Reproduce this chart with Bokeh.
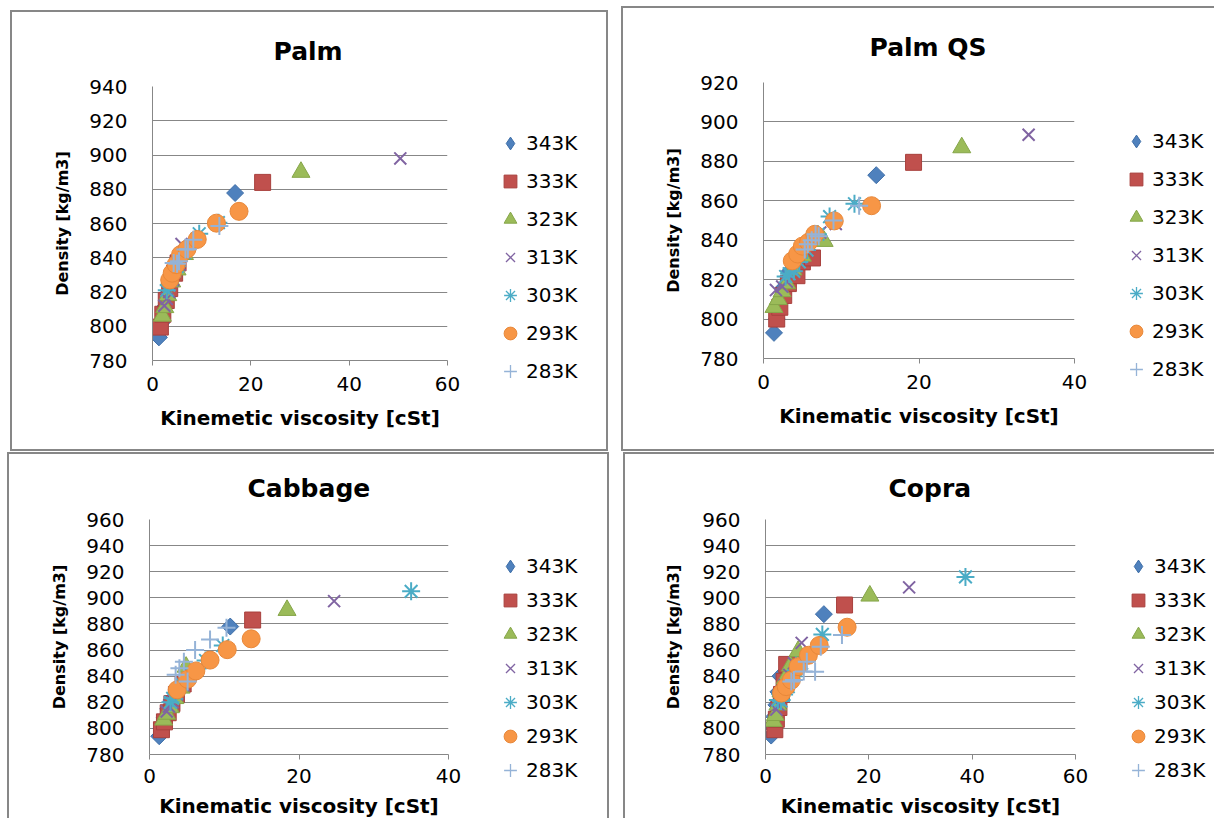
import math
from bokeh.plotting import figure
from bokeh.models import Range1d, FixedTicker, Legend, LegendItem
from bokeh.layouts import row, column
from bokeh.embed import file_html
from bokeh.resources import INLINE

# ---------------- data ----------------
temps = ["343K", "333K", "323K", "313K", "303K", "293K", "283K"]

# Palm
palm_343_v = [1.3, 1.8, 2.4, 3.0, 3.8, 16.8]
palm_343_d = [793.5, 802, 811, 819, 828, 877.8]
palm_333_v = [1.6, 2.1, 2.8, 3.5, 4.5, 5.2, 22.4]
palm_333_d = [799.5, 807, 815, 822, 831, 837, 884]
palm_323_v = [2.0, 2.5, 3.1, 3.9, 5.0, 6.5, 30.2]
palm_323_d = [806, 811, 818, 826, 833, 842, 890]
palm_313_v = [2.4, 2.9, 3.4, 4.2, 5.5, 5.9, 50.4]
palm_313_d = [812, 816, 820, 827, 836, 848, 898]
palm_303_v = [2.9, 3.3, 4.0, 5.0, 6.5, 9.5, 13.4]
palm_303_d = [821, 824, 829, 835, 843, 854, 860.5]
palm_293_v = [3.5, 4.0, 4.8, 5.7, 7.0, 9.1, 13.0, 17.6]
palm_293_d = [827, 831, 836, 841.8, 845, 850.7, 860.2, 867.1]
palm_283_v = [4.3, 5.0, 5.4, 6.7, 7.2, 8.3, 13.6]
palm_283_d = [837, 836.5, 838, 844.8, 845, 850.5, 858.6]

# Palm QS
pqs_343_v = [1.35, 1.7, 2.1, 2.6, 3.3, 4.2, 14.5]
pqs_343_d = [793, 800, 808, 816, 824, 831, 873]
pqs_333_v = [1.7, 2.1, 2.6, 3.2, 4.3, 5.0, 6.3, 19.3]
pqs_333_d = [800, 806, 812, 818, 822, 829, 831, 879.5]
pqs_323_v = [1.35, 1.9, 2.4, 3.0, 3.8, 5.0, 7.8, 25.5]
pqs_323_d = [806, 810, 814, 818, 825, 832, 839.5, 887]
pqs_313_v = [1.6, 2.4, 3.0, 3.8, 4.8, 7.3, 9.3, 34.1]
pqs_313_d = [814.7, 816.5, 819, 825, 831, 843.9, 848.2, 893.5]
pqs_303_v = [2.85, 3.3, 3.9, 4.6, 5.6, 7.0, 8.5, 11.7]
pqs_303_d = [821.6, 823, 824.2, 829, 835, 843, 852, 858.5]
pqs_293_v = [3.7, 4.4, 5.0, 5.8, 6.6, 9.1, 13.9]
pqs_293_d = [829.5, 833, 837, 839, 843, 849.8, 857.5]
pqs_283_v = [5.3, 5.7, 6.2, 6.7, 7.1, 9.0, 12.3]
pqs_283_d = [835.3, 838, 840, 843, 842, 850, 857.5]

# Cabbage
cab_343_v = [1.3, 1.6, 2.0, 2.5, 3.0, 3.8, 10.8]
cab_343_d = [794, 800, 808, 815, 822, 830, 878]
cab_333_v = [1.6, 2.0, 2.5, 3.0, 3.6, 4.5, 13.8]
cab_333_d = [799, 805, 812, 819, 826, 834, 883]
cab_323_v = [1.9, 2.3, 2.8, 3.4, 4.2, 4.9, 18.4]
cab_323_d = [806.5, 811, 816, 823, 831, 847, 890.5]
cab_313_v = [2.3, 2.6, 3.1, 3.7, 4.5, 5.5, 24.7]
cab_313_d = [813, 816.8, 820, 826, 833, 841, 897.5]
cab_303_v = [2.8, 3.1, 3.6, 4.3, 5.5, 7.5, 9.8, 35.0]
cab_303_d = [820, 823, 827, 834, 842, 852, 863.5, 905]
cab_293_v = [3.7, 5.1, 6.2, 8.1, 10.4, 13.6]
cab_293_d = [829.5, 837.7, 844, 852.3, 860.3, 868.6]
cab_283_v = [5.1, 3.5, 4.0, 4.6, 6.1, 8.1, 10.3]
cab_283_d = [836, 841, 846, 851, 860, 868, 877]

# Copra
cop_343_v = [1.1, 1.4, 1.7, 2.1, 2.5, 2.9, 11.3]
cop_343_d = [794.5, 801, 809, 818, 828, 840, 887.5]
cop_333_v = [1.8, 2.1, 2.6, 3.1, 3.6, 4.1, 15.3]
cop_333_d = [799, 807, 816, 826, 836, 849, 894.5]
cop_323_v = [1.5, 1.9, 2.4, 3.0, 3.8, 4.8, 6.3, 20.2]
cop_323_d = [805.5, 810, 818, 828, 838, 848, 859, 901.5]
cop_313_v = [2.1, 2.5, 3.0, 3.7, 4.6, 5.5, 7.0, 27.8]
cop_313_d = [814.4, 818, 825, 833, 841, 850, 865.5, 908]
cop_303_v = [2.4, 3.0, 3.6, 4.4, 5.4, 7.0, 11.0, 38.7]
cop_303_d = [821.8, 821, 826, 832, 840, 850, 872, 916]
cop_293_v = [3.1, 4.0, 5.0, 6.3, 8.3, 10.4, 15.8]
cop_293_d = [827, 832, 837, 847.3, 856, 863.5, 877.5]
cop_283_v = [5.0, 5.5, 7.4, 9.6, 8.0, 10.7, 14.8]
cop_283_d = [836, 837, 843.6, 843.4, 851, 862.5, 871.5]

palm_xticks = [0, 20, 40, 60]
palm_yticks = [780, 800, 820, 840, 860, 880, 900, 920, 940]
pqs_xticks = [0, 20, 40]
pqs_yticks = [780, 800, 820, 840, 860, 880, 900, 920]
cab_xticks = [0, 20, 40]
cab_yticks = [780, 800, 820, 840, 860, 880, 900, 920, 940, 960]
cop_xticks = [0, 20, 40, 60]
cop_yticks = [780, 800, 820, 840, 860, 880, 900, 920, 940, 960]

# ---------------- styling ----------------
COLORS = ["#4F81BD", "#C0504D", "#9BBB59", "#8064A2", "#4BACC6", "#F79646", "#95B3D7"]
EDGE = ["#3F6FA8", "#A8403D", "#86A64A", "#8064A2", "#4BACC6", "#E8883A", "#95B3D7"]
PLOT_MARK = [("square", 12, math.pi / 4), ("square", 16, 0), ("triangle", 18, 0),
             ("x", 17, 0), ("asterisk", 18, 0), ("circle", 18, 0), ("cross", 18, 0)]
LEG_MARK = ["diamond", "square", "triangle", "x", "asterisk", "circle", "cross"]
LINE_ONLY = {"x", "asterisk", "cross"}
GRAY = "#878787"
FONT = "DejaVu Sans"
NAN = float("nan")
B = "2px solid " + GRAY


def no_frame_align(fig):
    if "frame_align" in fig.properties():
        fig.frame_align = False


def make_plot(title, xmax, ymax, vs, ds, xticks, yticks, w, h, borders,
              title_dx, title_standoff, tick_standoff, xlab_standoff, ylab_standoff,
              xlabel, css):
    left, right, top, bottom = borders
    p = figure(width=w, height=h, x_range=Range1d(0, xmax), y_range=Range1d(780, ymax),
               output_backend="svg", toolbar_location=None,
               min_border_left=left, min_border_right=right,
               min_border_top=top, min_border_bottom=bottom)
    no_frame_align(p)
    p.styles = css
    p.outline_line_color = None
    p.background_fill_color = "white"
    p.border_fill_color = "white"

    p.title.text = title
    p.title.align = "left"
    p.title.offset = title_dx
    p.title.standoff = title_standoff
    p.title.text_font = FONT
    p.title.text_font_style = "bold"
    p.title.text_font_size = "25px"
    p.title.text_color = "#000000"

    p.xgrid.visible = False
    p.ygrid.ticker = FixedTicker(ticks=yticks)
    p.ygrid.grid_line_color = GRAY
    p.ygrid.grid_line_width = 1

    for ax in (p.xaxis[0], p.yaxis[0]):
        ax.axis_line_color = GRAY
        ax.axis_line_width = 1
        ax.major_tick_line_color = GRAY
        ax.minor_tick_line_color = None
        ax.major_tick_in = 0
        ax.major_label_text_font = FONT
        ax.major_label_text_font_size = "20px"
        ax.major_label_text_color = "#000000"
        ax.axis_label_text_font = FONT
        ax.axis_label_text_font_style = "bold"
        ax.axis_label_text_color = "#000000"
    p.xaxis.ticker = FixedTicker(ticks=xticks)
    p.yaxis.ticker = FixedTicker(ticks=yticks)
    p.xaxis.major_tick_out = 5
    p.xaxis.major_label_standoff = tick_standoff
    p.yaxis.major_tick_out = 0
    p.yaxis.major_label_standoff = 25
    p.xaxis.axis_label = xlabel
    p.xaxis.axis_label_text_font_size = "20px"
    p.xaxis.axis_label_standoff = xlab_standoff
    p.yaxis.axis_label = "Density [kg/m3]"
    p.yaxis.axis_label_text_font_size = "16px"
    p.yaxis.axis_label_standoff = ylab_standoff

    for i in range(len(temps)):
        mk, sz, ang = PLOT_MARK[i]
        if mk in LINE_ONLY:
            p.scatter(vs[i], ds[i], marker=mk, size=sz, angle=ang,
                      line_color=COLORS[i], line_width=2)
        else:
            p.scatter(vs[i], ds[i], marker=mk, size=sz, angle=ang,
                      fill_color=COLORS[i], line_color=EDGE[i], line_width=1)
    return p


def make_legend(w, h, off_left, off_top, spacing, css):
    q = figure(width=w, height=h, x_range=Range1d(0, 1), y_range=Range1d(0, 1),
               x_axis_type=None, y_axis_type=None, output_backend="svg",
               toolbar_location=None, min_border_left=off_left, min_border_top=off_top,
               min_border_right=0, min_border_bottom=0)
    no_frame_align(q)
    q.title.visible = False
    q.styles = css
    q.outline_line_color = None
    q.background_fill_color = "white"
    q.border_fill_color = "white"
    items = []
    for i, t in enumerate(temps):
        mk = LEG_MARK[i]
        if mk in LINE_ONLY:
            proxy = q.scatter([NAN], [NAN], marker=mk, line_color=COLORS[i], line_width=1.3)
        else:
            proxy = q.scatter([NAN], [NAN], marker=mk, fill_color=COLORS[i],
                              line_color=EDGE[i], line_width=1)
        items.append(LegendItem(label=t, renderers=[proxy]))
    leg = Legend(items=items, location="top_left", glyph_width=32, glyph_height=32,
                 label_standoff=0, spacing=spacing, padding=0, margin=0,
                 border_line_color=None, background_fill_alpha=0,
                 label_text_font=FONT, label_text_font_size="20px",
                 label_text_color="#000000")
    q.add_layout(leg)
    return q


# ---- Palm (top left) ----
p1 = make_plot("Palm", 60, 940,
               [palm_343_v, palm_333_v, palm_323_v, palm_313_v, palm_303_v, palm_293_v, palm_283_v],
               [palm_343_d, palm_333_d, palm_323_d, palm_313_d, palm_303_d, palm_293_d, palm_283_d],
               palm_xticks, palm_yticks, 468, 437, (140, 35, 74, 93),
               121, 42, 11, 12, 14, "Kinemetic viscosity [cSt]",
               {"border-left": B, "border-top": B, "border-bottom": B, "box-sizing": "content-box"})
p1.margin = (10, 0, 0, 10)
l1 = make_legend(126, 437, 14, 115, 6,
                 {"border-right": B, "border-top": B, "border-bottom": B, "box-sizing": "content-box"})
l1.margin = (10, 0, 0, 0)

# ---- Palm QS (top right) ----
p2 = make_plot("Palm QS", 40, 920,
               [pqs_343_v, pqs_333_v, pqs_323_v, pqs_313_v, pqs_303_v, pqs_293_v, pqs_283_v],
               [pqs_343_d, pqs_333_d, pqs_323_d, pqs_313_d, pqs_303_d, pqs_293_d, pqs_283_d],
               pqs_xticks, pqs_yticks, 477, 441, (140, 28, 74, 95),
               106, 42, 11, 12, 14, "Kinematic viscosity [cSt]",
               {"border-left": B, "border-top": B, "border-bottom": B, "box-sizing": "content-box"})
p2.margin = (6, 0, 0, 13)
l2 = make_legend(114, 441, 20, 117, 6,
                 {"border-top": B, "border-bottom": B, "box-sizing": "content-box"})
l2.margin = (6, 0, 0, 0)

# ---- Cabbage (bottom left) ----
p3 = make_plot("Cabbage", 40, 960,
               [cab_343_v, cab_333_v, cab_323_v, cab_313_v, cab_303_v, cab_293_v, cab_283_v],
               [cab_343_d, cab_333_d, cab_323_d, cab_313_d, cab_303_d, cab_293_d, cab_283_d],
               cab_xticks, cab_yticks, 471, 364, (140, 34, 65, 63),
               98, 33, 9, 8, 14, "Kinematic viscosity [cSt]",
               {"border-left": B, "border-top": B, "box-sizing": "content-box"})
p3.margin = (1, 0, 0, 7)
l3 = make_legend(127, 364, 14, 96, 2,
                 {"border-right": B, "border-top": B, "box-sizing": "content-box"})
l3.margin = (1, 0, 0, 0)

# ---- Copra (bottom right) ----
p4 = make_plot("Copra", 60, 960,
               [cop_343_v, cop_333_v, cop_323_v, cop_313_v, cop_303_v, cop_293_v, cop_283_v],
               [cop_343_d, cop_333_d, cop_323_d, cop_313_d, cop_303_d, cop_293_d, cop_283_d],
               cop_xticks, cop_yticks, 475, 364, (140, 27, 65, 63),
               123, 33, 9, 8, 16, "Kinematic viscosity [cSt]",
               {"border-left": B, "border-top": B, "box-sizing": "content-box"})
p4.margin = (1, 0, 0, 14)
l4 = make_legend(114, 364, 22, 96, 2,
                 {"border-top": B, "box-sizing": "content-box"})
l4.margin = (1, 0, 0, 0)

layout = column(row(p1, l1, p2, l2), row(p3, l3, p4, l4))
open("out.html", "w").write(file_html(layout, INLINE))
